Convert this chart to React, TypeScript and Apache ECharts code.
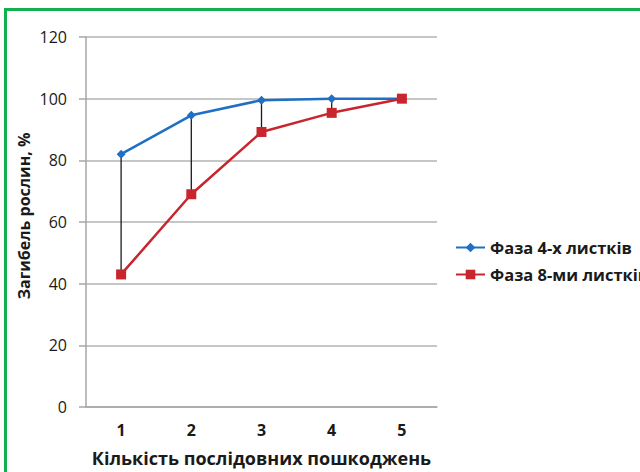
import React, { useEffect, useRef } from "react";
import * as echarts from "echarts";

const categories = ["1", "2", "3", "4", "5"];
const phase4Name = "Фаза 4-х листків";
const phase8Name = "Фаза 8-ми листків";
const phase4Values = [82, 94.6, 99.5, 100, 100];
const phase8Values = [43, 69, 89.2, 95.4, 100];
const yTicks = { min: 0, max: 120, interval: 20 };
const xAxisTitle = "Кількість послідовних пошкоджень";
const yAxisTitle = "Загибель рослин, %";

const FONT = "'Open Sans', 'Noto Sans', sans-serif";

export default function App() {
  const ref = useRef<HTMLDivElement>(null);
  useEffect(() => {
    if (!ref.current) return;
    const chart = echarts.init(ref.current, null, { renderer: "svg" });
    const dropData = categories.map((_, i) => [i, phase4Values[i], phase8Values[i]]);
    chart.setOption({
      animation: false,
      backgroundColor: "transparent",
      textStyle: { fontFamily: FONT },
      grid: { left: 86, width: 351, top: 37, height: 377, containLabel: false },
      legend: {
        orient: "vertical",
        left: 455,
        top: 239,
        padding: 0,
        itemWidth: 29,
        itemHeight: 12,
        itemGap: 10,
        data: [phase4Name, phase8Name],
        textStyle: { fontFamily: FONT, fontWeight: "bold", fontSize: 16.5, color: "#1a1a1a" },
      },
      graphic: [
        {
          type: "text",
          x: 24,
          y: 216,
          rotation: Math.PI / 2,
          style: {
            text: yAxisTitle,
            fontFamily: FONT,
            fontWeight: "bold",
            fontSize: 16,
            fill: "#1a1a1a",
            align: "center",
            verticalAlign: "middle",
          },
        },
      ],
      xAxis: {
        type: "category",
        data: categories,
        boundaryGap: true,
        name: xAxisTitle,
        nameLocation: "middle",
        nameGap: 42,
        nameTextStyle: { fontFamily: FONT, fontWeight: "bold", fontSize: 18, color: "#1a1a1a" },
        axisLine: { lineStyle: { color: "#a6a6a6", width: 1.5 } },
        axisTick: { show: false },
        axisLabel: { fontFamily: FONT, fontWeight: "bold", fontSize: 16, color: "#1a1a1a", margin: 15 },
        splitLine: { show: false },
      },
      yAxis: {
        type: "value",
        min: yTicks.min,
        max: yTicks.max,
        interval: yTicks.interval,
        axisLine: { show: true, lineStyle: { color: "#a6a6a6", width: 1.5 } },
        axisTick: { show: true, length: 7, lineStyle: { color: "#a6a6a6", width: 1.5 } },
        axisLabel: { fontFamily: FONT, fontSize: 16, color: "#1a1a1a", margin: 19 },
        splitLine: { show: true, lineStyle: { color: "#b3b3b3", width: 1.5 } },
      },
      series: [
        {
          type: "custom",
          silent: true,
          z: 1,
          data: dropData,
          renderItem: (params: any, api: any) => {
            const i = api.value(0);
            const p1 = api.coord([i, api.value(1)]);
            const p2 = api.coord([i, api.value(2)]);
            return {
              type: "line",
              shape: { x1: p1[0], y1: p1[1], x2: p2[0], y2: p2[1] },
              style: { stroke: "#1a1a1a", lineWidth: 1.3 },
            };
          },
        },
        {
          name: phase4Name,
          type: "line",
          z: 3,
          data: phase4Values,
          symbol: "diamond",
          symbolSize: 9,
          lineStyle: { color: "#1f6fc5", width: 2.5 },
          itemStyle: { color: "#1f6fc5" },
        },
        {
          name: phase8Name,
          type: "line",
          z: 4,
          data: phase8Values,
          symbol: "rect",
          symbolSize: 10,
          lineStyle: { color: "#c8262c", width: 2.5 },
          itemStyle: { color: "#c8262c" },
        },
      ],
    });
    return () => chart.dispose();
  }, []);

  return (
    <div
      style={{
        position: "fixed",
        left: 0,
        top: 0,
        width: 640,
        height: 472,
        background: "#fff",
        overflow: "hidden",
      }}
    >
      <div
        style={{
          position: "absolute",
          left: 4,
          top: 8,
          width: 700,
          height: 600,
          borderLeft: "3px solid #12b04e",
          borderTop: "3px solid #12b04e",
          boxSizing: "border-box",
        }}
      />
      <div ref={ref} style={{ position: "absolute", left: 0, top: 0, width: 640, height: 472 }} />
    </div>
  );
}
